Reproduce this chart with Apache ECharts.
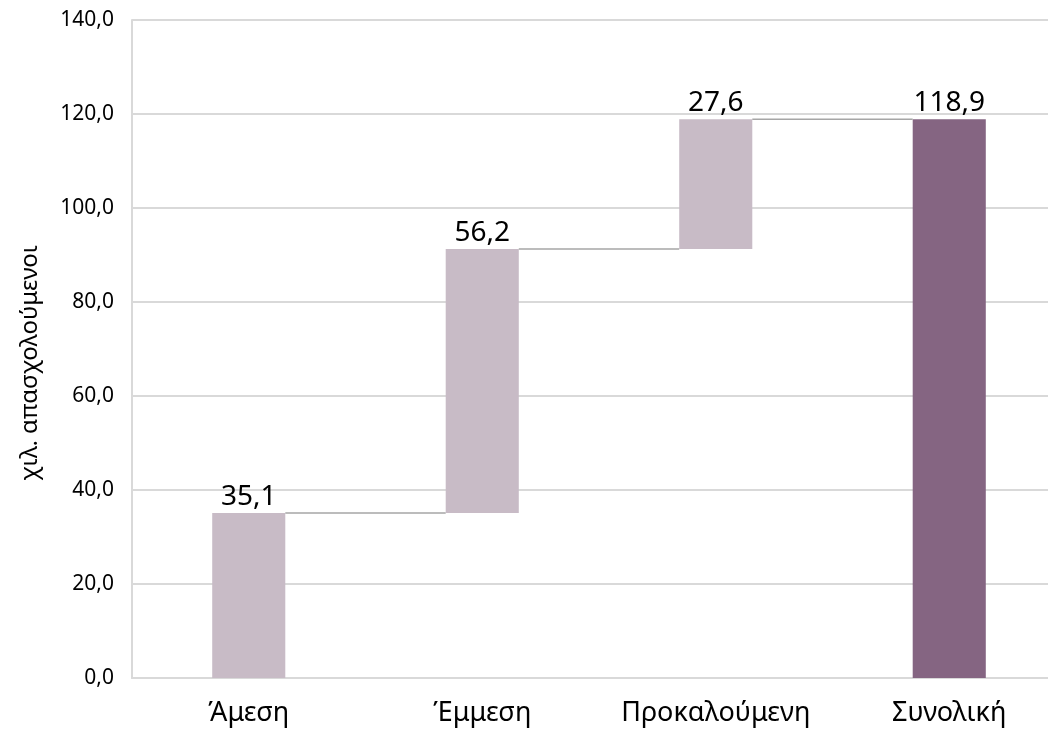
<!DOCTYPE html>
<html>
<head>
<meta charset="utf-8">
<script src="https://cdn.jsdelivr.net/npm/echarts@6/dist/echarts.min.js"></script>
<style>
  html, body { margin: 0; padding: 0; background: #fff; }
  #chart { width: 1048px; height: 734px; }
</style>
</head>
<body>
<div id="chart"></div>
<script>
const categories = ['Άμεση', 'Έμμεση', 'Προκαλούμενη', 'Συνολική']
const values = [35.1, 56.2, 27.6, 118.9]
const isTotal = [false, false, false, true]
const yTicks = { min: 0, max: 140, interval: 20 }

const lightColor = '#c8bbc6'
const darkColor = '#856582'
const font = 'Noto Sans'

// base (invisible) part of each step, from the running total
const bases = []
const levels = []
let running = 0
values.forEach((v, i) => {
  if (isTotal[i]) {
    bases.push(0)
    running = v
  } else {
    bases.push(running)
    running += v
  }
  levels.push(running)
})

const barFrac = 0.313
const comma = v => v.toFixed(1).replace('.', ',')

const chart = echarts.init(document.getElementById('chart'))

chart.setOption({
  backgroundColor: '#fff',
  animation: false,
  grid: { left: 132, top: 20, width: 934, height: 658, outerBoundsMode: 'none', containLabel: false },
  xAxis: {
    type: 'category',
    data: categories,
    axisLine: { lineStyle: { color: '#d9d9d9', width: 2 } },
    axisTick: { show: false },
    axisLabel: { color: '#000', fontSize: 27, fontFamily: font, margin: 22, interval: 0, hideOverlap: false },
  },
  yAxis: {
    type: 'value',
    min: yTicks.min,
    max: yTicks.max,
    interval: yTicks.interval,
    name: 'χιλ. απασχολούμενοι',
    nameLocation: 'middle',
    nameGap: 90,
    nameTextStyle: { color: '#000', fontSize: 24, fontFamily: font, padding: [0, 28, 0, 0] },
    axisLine: { show: true, lineStyle: { color: '#d9d9d9', width: 2 } },
    axisTick: { show: false },
    splitLine: { lineStyle: { color: '#d9d9d9', width: 2 } },
    axisLabel: { color: '#000', fontSize: 21, fontFamily: font, margin: 18, formatter: comma },
  },
  series: [
    {
      type: 'bar',
      stack: 'wf',
      data: bases,
      itemStyle: { color: 'transparent' },
      barWidth: (barFrac * 100) + '%',
      silent: true,
    },
    {
      type: 'bar',
      stack: 'wf',
      barWidth: (barFrac * 100) + '%',
      data: values.map((v, i) => ({
        value: v,
        itemStyle: { color: isTotal[i] ? darkColor : lightColor },
      })),
      label: {
        show: true,
        position: 'top',
        distance: 2,
        color: '#000',
        fontSize: 28,
        fontFamily: font,
        formatter: p => comma(p.value),
      },
    },
    {
      type: 'custom',
      data: levels.slice(0, -1).map((lv, i) => [i, lv]),
      encode: { x: 0, y: 1 },
      renderItem: (params, api) => {
        const i = api.value(0)
        const lv = api.value(1)
        const half = api.size([1, 0])[0] * barFrac / 2
        const p1 = api.coord([i, lv])
        const p2 = api.coord([i + 1, lv])
        return {
          type: 'line',
          shape: { x1: p1[0] + half, y1: p1[1], x2: p2[0] - half, y2: p2[1] },
          style: { stroke: '#a6a6a6', lineWidth: 1.5 },
        }
      },
      z: 3,
    },
  ],
})
</script>
</body>
</html>
